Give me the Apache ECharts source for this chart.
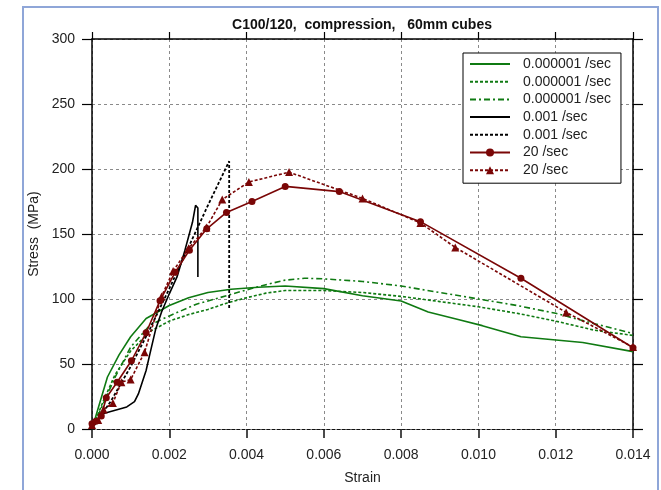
<!DOCTYPE html>
<html><head><meta charset="utf-8">
<script src="https://cdn.jsdelivr.net/npm/echarts@6/dist/echarts.min.js"></script>
<style>html,body{margin:0;padding:0;background:#fff}#c{width:661px;height:490px}</style>
</head><body><div id="c"></div>
<script>
const titleText = 'C100/120,  compression,   60mm cubes';
const xName = 'Strain';
const yName = 'Stress  (MPa)';
const legendLabels = ['0.000001 /sec','0.000001 /sec','0.000001 /sec','0.001 /sec','0.001 /sec','20 /sec','20 /sec'];

// [strain, stress]
const greenSolid = [[0,0],[0.0002,20],[0.0004,40],[0.0007,57],[0.001,71],[0.0014,85],[0.002,95],[0.0025,101],[0.003,105],[0.0036,107.5],[0.0043,109],[0.005,110],[0.006,108],[0.007,102.5],[0.008,98.5],[0.0087,90],[0.0095,84],[0.0101,79.5],[0.0111,71],[0.0127,66.5],[0.014,59.5]];
const greenDotted = [[0,0],[0.0003,22],[0.0006,42],[0.001,60],[0.0015,75],[0.002,83],[0.0025,88],[0.003,92],[0.0035,97],[0.004,101],[0.0045,104.5],[0.005,106.5],[0.006,106.5],[0.007,105],[0.008,102],[0.009,98],[0.010,94],[0.011,89],[0.012,83],[0.013,76],[0.014,72]];
const greenDashDot = [[0,0],[0.0003,20],[0.0006,40],[0.001,63],[0.0015,80],[0.002,87],[0.0027,96],[0.0033,101],[0.004,107],[0.0045,111],[0.005,114.5],[0.0055,116],[0.006,115.5],[0.007,113.5],[0.008,110],[0.009,105],[0.010,100],[0.011,95],[0.012,89],[0.013,81],[0.014,73.5]];
const blackSolid = [[0,3],[0.0001,6],[0.0003,12],[0.0006,14.5],[0.0009,17],[0.0011,21],[0.0012,27],[0.0013,36],[0.0014,45],[0.0015,58],[0.00165,77],[0.0018,90],[0.002,104],[0.0022,117],[0.0024,137],[0.0026,159],[0.00268,172],[0.00274,170],[0.00274,117]];
const blackDotted = [[0,0],[0.0005,22],[0.001,48],[0.0015,77],[0.002,108],[0.0025,140],[0.003,172],[0.00355,206],[0.00355,92]];
const redCircles = [[0,4],[0.0001,6],[0.00024,10],[0.00037,24],[0.00065,36],[0.00102,52.5],[0.0014,74],[0.00176,98.7],[0.00215,120.5],[0.00252,137.5],[0.00297,154],[0.00348,166.6],[0.00414,175],[0.005,186.6],[0.0064,182.6],[0.0085,159.5],[0.0111,116],[0.014,62.5]];
const redTriangles = [[0,3],[0.00016,7],[0.0003,15],[0.00054,20],[0.00076,36],[0.001,38],[0.00136,59],[0.0018,102],[0.0021,121.5],[0.0025,139],[0.00296,155],[0.00337,176.5],[0.00406,190],[0.0051,197.6],[0.007,177.4],[0.0085,158.5],[0.0094,139.7],[0.01227,89.7],[0.014,63]];

const GREEN = '#0f7a12', RED = '#7a0606', BLACK = '#000';
const FONT = 'Liberation Sans';
const ids = ['s1','s2','s3','s4','s5','s6','s7'];
const hasMarker = [false,false,false,false,false,true,true];

function line(id, data, color, type, width, symbol, size) {
  return {
    id: id, name: id, type: 'line', data: data, xAxisIndex: 0, yAxisIndex: 0,
    symbol: symbol || 'none', symbolSize: size || 0, showSymbol: !!symbol,
    lineStyle: { color: color, type: type, width: width },
    itemStyle: { color: color, borderWidth: 0 },
    animation: false, z: 3
  };
}

const chart = echarts.init(document.getElementById('c'));
chart.setOption({
  animation: false,
  backgroundColor: '#fff',
  textStyle: { fontFamily: FONT },
  title: {
    text: titleText, left: 357, top: 13, textAlign: 'center',
    textStyle: { fontSize: 14, fontWeight: 'bold', color: '#111', fontFamily: FONT }
  },
  graphic: [{
    type: 'rect', z: -10, silent: true,
    shape: { x: 23, y: 7, width: 635, height: 500 },
    style: { fill: 'none', stroke: '#8fa6d8', lineWidth: 2 }
  }],
  legend: {
    orient: 'vertical', left: 463, top: 53,
    itemWidth: 40, itemHeight: 10, itemGap: 3.7,
    padding: [4, 10, 6, 6],
    borderColor: '#000', borderWidth: 1, backgroundColor: '#fff',
    textStyle: { fontSize: 14, lineHeight: 14, color: '#222', fontFamily: FONT, padding: [0, 0, 0, 8] },
    formatter: function (n) { return legendLabels[ids.indexOf(n)]; },
    data: ids.map(function (id, i) {
      return hasMarker[i] ? { name: id } : { name: id, itemStyle: { color: 'rgba(0,0,0,0)', borderWidth: 0 } };
    }),
    selectedMode: false
  },
  grid: { left: 92, right: 28, top: 39, bottom: 59 },
  xAxis: [{
    type: 'value', min: 0, max: 0.014, interval: 0.002, position: 'bottom',
    name: xName, nameLocation: 'middle', nameGap: 42,
    nameTextStyle: { fontSize: 14, color: '#222', fontFamily: FONT },
    axisLine: { onZero: false, lineStyle: { color: '#111', type: [3, 2], width: 1.2 } },
    axisTick: { inside: false, length: 9, lineStyle: { color: '#111', width: 1.5 } },
    axisLabel: { formatter: function (v) { return v.toFixed(3); }, margin: 19, fontSize: 14, color: '#222' },
    splitLine: { show: true, lineStyle: { color: '#8a8a8a', type: [3, 3], width: 1 } }
  }, {
    type: 'value', min: 0, max: 0.014, interval: 0.002, position: 'top',
    axisLine: { onZero: false, lineStyle: { color: '#000', width: 1.5 } },
    axisTick: { inside: false, length: 7, lineStyle: { color: '#000', width: 1.2 } },
    axisLabel: { show: false }, splitLine: { show: false }
  }],
  yAxis: [{
    type: 'value', min: 0, max: 300, interval: 50, position: 'left',
    name: yName, nameLocation: 'middle', nameGap: 50, nameRotate: 90,
    nameTextStyle: { fontSize: 14, color: '#222', fontFamily: FONT },
    axisLine: { onZero: false, lineStyle: { color: '#000', width: 1.5 } },
    axisTick: { inside: false, length: 10, lineStyle: { color: '#000', width: 1.2 } },
    axisLabel: { margin: 17, fontSize: 14, color: '#222' },
    splitLine: { show: true, lineStyle: { color: '#8a8a8a', type: [3, 3], width: 1 } }
  }, {
    type: 'value', min: 0, max: 300, interval: 50, position: 'right',
    axisLine: { onZero: false, lineStyle: { color: '#000', width: 1.5 } },
    axisTick: { inside: false, length: 10, lineStyle: { color: '#000', width: 1.2 } },
    axisLabel: { show: false }, splitLine: { show: false }
  }],
  series: [
    line('s1', greenSolid, GREEN, 'solid', 1.6),
    line('s2', greenDotted, GREEN, [3, 2], 1.6),
    line('s3', greenDashDot, GREEN, [6, 3, 2, 3], 1.6),
    line('s4', blackSolid, BLACK, 'solid', 1.6),
    line('s5', blackDotted, BLACK, [3, 2], 1.8),
    line('s6', redCircles, RED, 'solid', 1.6, 'circle', 7),
    line('s7', redTriangles, RED, [3, 2], 1.6, 'triangle', 8)
  ]
});
</script></body></html>
